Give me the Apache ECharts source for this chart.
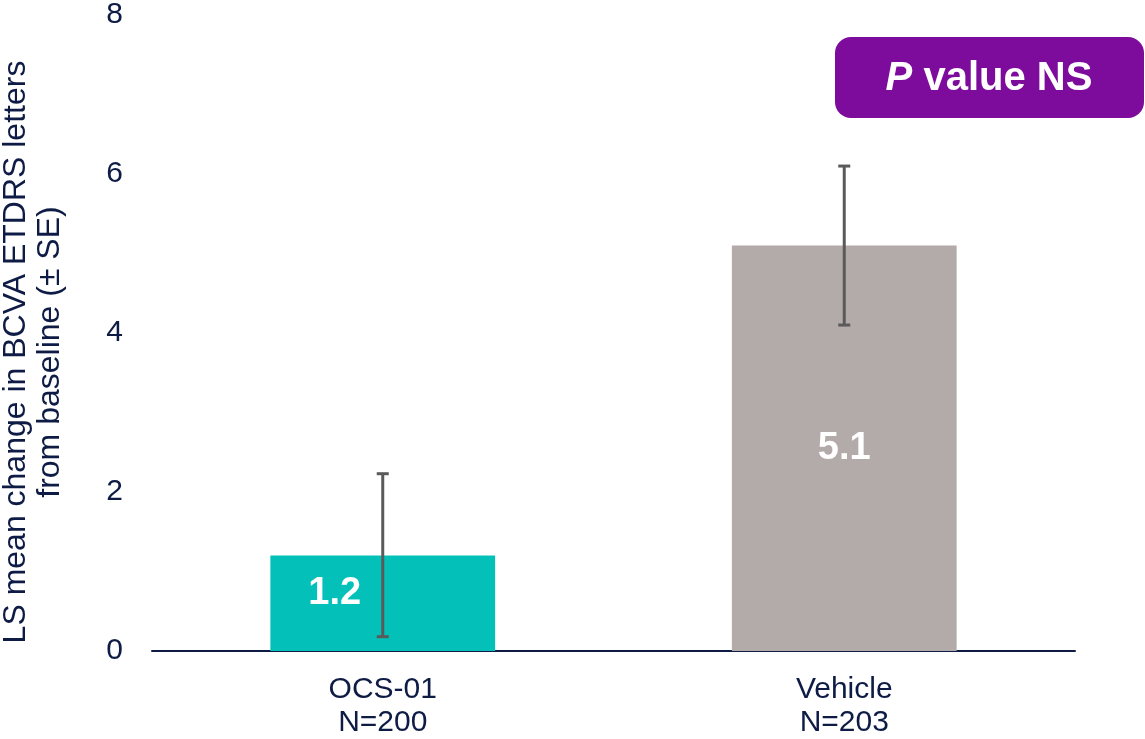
<!DOCTYPE html>
<html>
<head>
<meta charset="utf-8">
<script src="https://cdn.jsdelivr.net/npm/echarts@6/dist/echarts.min.js"></script>
<style>
  html, body { margin: 0; padding: 0; background: #fff; }
  #main { width: 1145px; height: 739px; }
</style>
</head>
<body>
<div id="main"></div>
<script>
var categories = ['OCS-01\nN=200', 'Vehicle\nN=203'];
var means = [1.2, 5.1];
var seLow = [0.18, 4.1];
var seHigh = [2.23, 6.1];
var barColors = ['#03C1B8', '#B3ABA9'];
var yTicks = [0, 2, 4, 6, 8];

var navy = '#0D1B45';
var chartDom = document.getElementById('main');
var myChart = echarts.init(chartDom);
var option;

option = {
  animation: false,
  grid: { left: 152, right: 70, top: 14, bottom: 88 },
  xAxis: {
    type: 'category',
    data: categories,
    axisLine: { lineStyle: { color: navy, width: 2 } },
    axisTick: { show: false },
    axisLabel: {
      color: navy,
      fontSize: 30,
      fontFamily: 'Liberation Sans, Arial',
      lineHeight: 33,
      margin: 22
    }
  },
  yAxis: {
    type: 'value',
    min: yTicks[0],
    max: yTicks[yTicks.length - 1],
    interval: 2,
    splitLine: { show: false },
    axisLine: { show: false },
    axisTick: { show: false },
    axisLabel: {
      color: navy,
      fontSize: 30,
      fontFamily: 'Liberation Sans, Arial',
      margin: 29
    }
  },
  graphic: [
    {
      type: 'text',
      x: 33,
      y: 352,
      rotation: Math.PI / 2,
      style: {
        text: 'LS mean change in BCVA ETDRS letters\nfrom baseline (± SE)',
        font: '32px "Liberation Sans", Arial',
        fill: navy,
        align: 'center',
        verticalAlign: 'middle',
        lineHeight: 34
      }
    },
    {
      type: 'rect',
      shape: { x: 835, y: 37, width: 309, height: 81, r: 16 },
      style: { fill: '#7D0C9C' }
    },
    {
      type: 'text',
      x: 989,
      y: 79,
      style: {
        text: '{i|P} {b|value NS}',
        rich: {
          i: { fontSize: 40, fontWeight: 'bold', fontStyle: 'italic', fill: '#fff', fontFamily: 'Liberation Sans, Arial' },
          b: { fontSize: 40, fontWeight: 'bold', fill: '#fff', fontFamily: 'Liberation Sans, Arial' }
        },
        fill: '#fff',
        font: 'bold 40px "Liberation Sans", Arial',
        align: 'center',
        verticalAlign: 'middle'
      }
    }
  ],
  series: [
    {
      type: 'bar',
      barWidth: '48.7%',
      data: means.map(function (v, i) {
        return {
          value: v,
          itemStyle: { color: barColors[i] },
          label: { offset: i === 0 ? [-48, -10] : [0, 0] }
        };
      }),
      label: {
        show: true,
        position: 'inside',
        color: '#fff',
        fontSize: 38,
        fontWeight: 'bold',
        fontFamily: 'Liberation Sans, Arial'
      }
    },
    {
      type: 'custom',
      data: seLow.map(function (lo, i) { return [i, lo, seHigh[i]]; }),
      z: 10,
      renderItem: function (params, api) {
        var x = api.value(0);
        var lo = api.coord([x, api.value(1)]);
        var hi = api.coord([x, api.value(2)]);
        var cap = 6;
        var st = { stroke: '#5A5A5A', lineWidth: 3 };
        return {
          type: 'group',
          children: [
            { type: 'line', shape: { x1: lo[0], y1: lo[1], x2: hi[0], y2: hi[1] }, style: st },
            { type: 'line', shape: { x1: lo[0] - cap, y1: lo[1], x2: lo[0] + cap, y2: lo[1] }, style: st },
            { type: 'line', shape: { x1: hi[0] - cap, y1: hi[1], x2: hi[0] + cap, y2: hi[1] }, style: st }
          ]
        };
      }
    }
  ]
};
option && myChart.setOption(option);
</script>
</body>
</html>
